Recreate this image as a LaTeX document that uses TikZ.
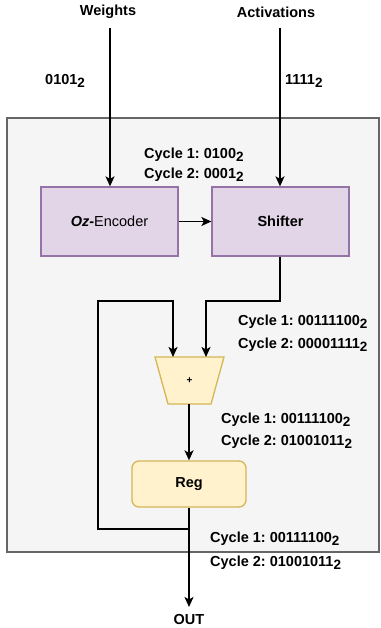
\documentclass[tikz,border=0pt]{standalone}
\usepackage{fontspec}
\setmainfont{Liberation Sans}
\usetikzlibrary{arrows.meta}
\definecolor{purfill}{HTML}{E1D5E7}
\definecolor{purline}{HTML}{9673A6}
\definecolor{yelfill}{HTML}{FFF2CC}
\definecolor{yelline}{HTML}{D6B656}
\definecolor{grayfill}{HTML}{F5F5F5}
\definecolor{grayline}{HTML}{666666}
\newcommand{\bsub}[1]{\raisebox{-0.4ex}{\fontsize{13.5}{14}\selectfont #1}}
\frenchspacing
\begin{document}
\begin{tikzpicture}[x=1pt,y=-1pt,
  font=\fontsize{14.5}{17}\selectfont\bfseries\frenchspacing,
  wire/.style={line width=1.7pt,black},
  arr/.style={wire,-{Stealth[length=10pt,width=9pt,inset=2.5pt]}},
  lbl/.style={inner sep=0pt,align=left,anchor=west},
  purbox/.style={draw=purline,fill=purfill,line width=1.3pt},
]
\useasboundingbox (0,0) rectangle (380,628);
\fill[grayfill] (7,118) rectangle (379,552);
\draw[grayline,line width=1.4pt] (7,118) rectangle (379,552);

\node[inner sep=0pt] (w) at (108,12) {Weights};
\node[inner sep=0pt] (a) at (276,12) {Activations};
\coordinate (wt) at (110,28);
\coordinate (at) at (280,28);

\node[purbox,minimum width=137pt,minimum height=69pt,inner sep=0pt] (enc) at (109.5,221.5) {\textbf{\textit{Oz}-}\mdseries Encoder};
\node[purbox,minimum width=137pt,minimum height=69pt,inner sep=0pt] (sh) at (280.5,221.5) {Shifter};

\draw[arr] (wt) -- (enc.north -| wt);
\draw[arr] (at) -- (sh.north -| at);
\draw[arr] (enc.east) -- (sh.west);

\node[lbl] (l1) at (45,81) {0101\bsub{2}};
\node[lbl] (l2) at (285,81) {1111\bsub{2}};
\node[lbl] (l3) at (144,155) {Cycle 1: 0100\bsub{2}};
\node[lbl] (l4) at (144,175) {Cycle 2: 0001\bsub{2}};

% adder
\draw[yelline,fill=yelfill,line width=1.3pt] (155,357) -- (224,357) -- (211,404) -- (168,404) -- cycle;
\coordinate (addT) at (189.5,357);
\coordinate (addB) at (189.5,404);
\node[font=\fontsize{10}{11}\selectfont\bfseries] (plus) at (189.5,381) {+};

\node[draw=yelline,fill=yelfill,line width=1.3pt,rounded corners=7pt,minimum width=114pt,minimum height=46pt,inner sep=0pt] (reg) at (189,484) {Reg};

\coordinate (fb1) at (98,529);
\coordinate (fb2) at (98,301);
\coordinate (fb3) at (173,301);
\coordinate (s1) at (280,301);
\coordinate (s2) at (206,301);
\coordinate (out) at (189,607);

\draw[arr] (sh.south -| s1) -- (s1) -- (s2) -- (206,357);
\draw[arr] (189,529) -- (fb1) -- (fb2) -- (fb3) -- (173,357);
\draw[arr] (addB -| reg.north) -- (reg.north);
\draw[arr] (reg.south) -- (out);

\node[inner sep=0pt] (o) at (189,620) {OUT};

\node[lbl] at (238,322) {Cycle 1: 00111100\bsub{2}};
\node[lbl] at (238,345) {Cycle 2: 00001111\bsub{2}};
\node[lbl] at (221,420) {Cycle 1: 00111100\bsub{2}};
\node[lbl] at (221,442) {Cycle 2: 01001011\bsub{2}};
\node[lbl] at (210,539) {Cycle 1: 00111100\bsub{2}};
\node[lbl] at (210,563) {Cycle 2: 01001011\bsub{2}};
\end{tikzpicture}
\end{document}
